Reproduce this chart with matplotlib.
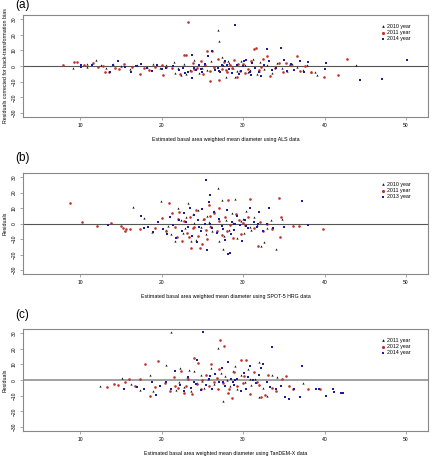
import matplotlib
matplotlib.use("Agg")
import matplotlib.pyplot as plt

plt.rcParams['font.family'] = ['Liberation Sans', 'DejaVu Sans']

# ---- data: (estimated diameter, residual) ----
a_2010 = [(9.1,-1.0),(10.9,1.3),(10.9,-0.4),(12.0,3.8),(12.6,0.5),(13.2,-1.5),(14.0,1.2),(15.0,0.3),(16.1,-2.0),(17.0,1.0),
          (18.2,-0.8),(19.0,1.6),(19.8,-1.0),(20.6,0.4),(21.5,2.8),(21.7,-4.5),(22.4,-6.0),(22.8,1.5),(23.5,-2.2),(24.0,4.0),
          (24.6,-4.3),(25.2,1.0),(25.6,-2.8),(26.1,3.5),(26.9,23.0),(27.0,16.0),(27.4,5.5),(27.9,-6.8),(28.3,2.0),(28.8,-1.5),
          (29.3,-3.0),(29.8,3.5),(30.3,1.0),(30.9,-2.3),(31.2,4.2),(31.7,-5.0),(32.1,2.5),(32.6,-1.8),(33.0,0.6),(33.5,-4.2),
          (34.2,2.0),(34.8,-1.0),(35.4,-3.3),(36.0,1.2),(36.6,-0.3),(37.3,-2.5),(37.8,0.8),(38.4,-4.0),(38.8,-3.5),(39.1,-5.6),
          (43.9,1.0),(23.0,-5.0),(25.0,-1.0),(27.6,0.5),(29.0,-7.0),(30.6,-3.8),(22.0,-1.5),(26.4,-0.6),(28.1,3.0),(31.9,-3.0)]
a_2011 = [(7.9,0.6),(9.3,2.5),(9.6,2.5),(10.5,0.5),(11.6,2.0),(12.2,-0.8),(12.8,0.3),(13.1,-3.8),(13.6,-4.0),(14.3,-1.2),
          (14.8,-2.0),(15.4,1.5),(16.4,-0.8),(17.3,-5.3),(17.8,-1.5),(18.5,-2.5),(19.2,-0.5),(20.0,0.8),(20.2,-6.0),(20.6,-0.7),
          (21.3,-1.0),(22.3,-5.0),(22.7,7.0),(23.0,7.0),(23.3,28.0),(23.6,-3.0),(23.9,2.2),(24.3,-1.5),(24.8,3.5),(25.1,-5.0),
          (25.6,9.6),(25.9,-9.4),(26.2,9.6),(26.5,-0.5),(26.9,4.5),(27.1,-9.0),(27.4,-2.0),(27.7,2.5),(28.0,-4.0),(28.4,0.8),
          (28.7,-1.5),(29.2,-7.0),(29.6,-3.0),(30.0,1.2),(30.6,-2.0),(31.0,3.5),(31.4,10.8),(31.6,11.3),(32.0,-2.5),(32.5,4.5),
          (32.9,6.2),(33.3,-6.5),(33.9,-1.5),(34.4,1.8),(34.9,-4.0),(35.3,2.0),(35.8,0.5),(36.6,6.4),(37.0,-3.0),(37.6,-0.2),
          (38.4,-3.5),(39.9,-7.0),(41.6,-5.7),(42.8,4.3),(24.0,-2.0),(26.0,-3.0),(27.9,-2.8),(29.4,1.5),(30.2,-4.5),(32.2,-0.5),
          (25.3,0.5),(28.9,4.0)]
a_2014 = [(10.1,0.4),(10.1,-0.4),(11.5,0.5),(13.7,-3.5),(14.1,0.5),(14.6,3.0),(15.5,-0.5),(16.3,-3.5),(16.9,0.2),(17.5,1.5),
          (18.2,-1.5),(18.8,-3.0),(19.5,0.5),(20.0,-2.0),(20.6,-1.5),(21.4,0.0),(22.1,-2.5),(22.6,-1.2),(22.9,-4.5),(23.3,-3.5),
          (23.8,-7.4),(23.7,7.0),(24.2,-2.5),(24.6,0.5),(24.9,-1.8),(25.3,1.5),(25.7,6.2),(26.2,9.6),(26.6,-2.5),(27.0,-3.0),
          (27.4,0.5),(27.8,3.0),(28.3,-2.0),(28.6,-4.5),(29.0,26.0),(29.3,0.5),(29.7,-3.0),(30.1,3.5),(30.4,4.0),(30.9,-4.0),
          (31.1,2.0),(31.5,-1.5),(31.9,-3.5),(32.2,-6.5),(32.6,1.0),(32.9,10.6),(33.2,3.5),(33.6,-2.5),(34.0,-1.0),(34.7,11.3),
          (35.0,4.0),(35.4,-3.0),(35.9,1.5),(36.3,-2.2),(37.0,3.0),(37.5,-4.0),(38.0,2.5),(40.0,-2.0),(40.2,2.1),(44.3,-9.0),
          (47.1,-8.3),(50.1,3.8),(25.0,-4.0),(26.9,-1.5),(28.0,1.0),(29.5,-5.0),(31.0,-5.5),(24.0,-1.0),(27.2,-3.8),(30.0,0.0)]

b_2010 = [(16.5,11.0),(17.9,3.5),(18.8,-5.5),(19.9,14.3),(20.5,-4.0),(21.2,-6.5),(21.7,-11.0),(22.0,10.0),(22.4,2.0),(22.9,-3.0),
          (23.3,13.5),(23.6,-11.5),(23.9,6.0),(24.2,-10.5),(24.5,9.0),(24.8,-2.5),(25.1,3.0),(25.4,-7.0),(25.8,1.0),(26.2,-5.0),
          (26.5,8.0),(26.9,23.2),(27.1,-11.0),(27.4,15.0),(27.5,-16.2),(27.9,2.0),(28.3,-4.0),(28.6,6.5),(29.0,15.7),(29.3,-9.0),
          (29.7,1.5),(30.1,-6.0),(30.4,8.0),(30.8,-2.0),(31.3,4.0),(31.7,-1.0),(32.2,-14.7),(32.6,-12.0),(33.0,-3.0),(33.4,2.5),
          (34.1,-16.2),(34.8,3.0),(20.8,-1.5),(22.6,-6.0),(24.0,0.5),(25.6,5.0),(26.0,-1.5),(27.7,-8.0),(28.8,0.5),(30.0,3.0),
          (31.0,-4.0),(23.0,4.5)]
b_2011 = [(8.8,13.0),(10.3,0.9),(12.1,-1.3),(13.8,0.4),(15.0,-1.5),(15.3,-3.0),(15.5,-4.5),(15.7,-3.5),(16.1,-3.2),(17.3,-3.8),
          (19.2,-3.0),(20.0,3.5),(20.5,-5.0),(20.9,13.0),(21.3,7.0),(21.6,-2.0),(21.9,-8.5),(22.2,7.5),(22.5,-11.0),(22.8,1.5),
          (23.1,-6.0),(23.5,4.0),(23.6,-15.5),(23.9,-3.0),(24.2,9.0),(24.5,-8.0),(24.7,-15.5),(25.0,-13.0),(25.2,3.0),(25.5,-4.0),
          (25.8,12.0),(26.1,-2.0),(26.4,7.0),(26.8,-5.0),(27.1,10.0),(27.4,-7.5),(27.8,4.0),(28.2,15.0),(28.4,-1.0),(28.8,-9.0),
          (29.1,6.0),(29.5,2.0),(29.8,-6.5),(30.2,-1.0),(30.6,4.5),(30.9,15.7),(31.3,-3.0),(31.8,-14.7),(32.1,1.0),(32.5,-5.0),
          (33.0,-0.5),(33.6,-3.5),(34.4,16.8),(34.5,-8.7),(34.7,4.5),(36.1,-1.3),(36.9,-1.3),(39.8,-3.6),(22.0,3.0),(24.0,-2.0),
          (26.0,5.0),(28.0,-4.5),(30.0,0.5),(27.0,1.5),(23.4,-8.5),(25.6,-10.0)]
b_2013 = [(13.4,-0.6),(17.5,5.0),(17.8,-3.0),(18.3,-2.5),(19.0,-5.5),(19.6,1.3),(20.2,-3.5),(20.7,-6.5),(21.0,4.5),(21.4,-1.0),
          (21.8,-9.0),(22.1,2.0),(22.5,-4.5),(22.8,6.5),(23.2,-2.0),(23.5,10.0),(23.8,-8.0),(24.0,5.5),(24.3,-12.0),(24.5,2.5),
          (24.8,-5.0),(25.0,9.5),(25.3,0.0),(25.5,28.3),(25.6,-17.2),(25.9,18.3),(26.2,-3.0),(26.5,7.5),(26.8,-6.0),(27.1,3.0),
          (27.4,-1.5),(27.8,-10.5),(28.0,8.5),(28.2,-19.4),(28.4,-19.0),(28.6,1.0),(28.9,-4.0),(29.2,5.0),(29.6,-1.0),(29.9,-11.0),
          (30.2,2.0),(30.6,-3.0),(30.9,10.0),(31.3,1.0),(31.7,-2.5),(32.0,7.5),(32.4,-4.5),(32.9,0.0),(33.2,10.0),(33.7,-3.0),
          (35.0,-2.0),(37.2,14.5),(38.0,-1.0),(24.6,-2.0),(26.0,-0.5),(27.6,-3.5),(29.0,-0.5),(30.4,-1.5),(31.8,-0.5),(23.0,1.0),
          (25.8,14.0),(28.5,-7.0)]

c_2011 = [(12.4,-3.6),(15.2,1.3),(16.2,-2.5),(17.3,-6.5),(18.6,3.0),(19.0,-7.0),(20.5,9.5),(21.2,30.4),(21.8,-6.5),(22.3,8.0),
          (22.7,-4.5),(23.1,2.0),(23.6,-7.0),(24.0,5.5),(24.4,-2.0),(24.8,3.5),(25.2,-5.0),(25.7,0.5),(26.1,8.0),(26.5,-2.5),
          (26.9,20.4),(27.3,4.5),(27.6,-13.2),(28.0,0.0),(28.4,-3.5),(28.8,6.0),(29.3,-6.0),(29.7,3.5),(30.2,-1.5),(30.6,7.0),
          (31.0,-3.0),(31.5,1.0),(31.9,11.5),(32.0,-10.5),(32.5,-5.0),(33.0,-10.0),(33.5,3.0),(34.2,2.0),(37.3,-1.9),(23.4,6.5),
          (25.0,-0.5),(27.8,2.5),(29.0,9.0),(30.9,0.5),(22.2,-1.0)]
c_2012 = [(13.3,-4.5),(14.2,-2.5),(14.7,-3.0),(15.5,-1.5),(16.0,0.5),(16.8,-4.0),(17.3,0.5),(18.0,10.0),(18.6,-10.0),(19.2,-4.5),
          (19.6,12.3),(20.4,-2.0),(21.0,-7.0),(21.5,2.0),(22.0,-5.0),(22.4,5.5),(22.7,-8.0),(23.2,0.5),(23.7,-9.0),(24.0,14.0),
          (24.3,-2.5),(24.5,11.0),(24.9,-6.0),(25.4,3.0),(25.8,-4.0),(26.1,10.0),(26.5,-1.5),(26.9,-5.5),(27.2,25.7),(27.5,-2.0),
          (27.7,22.0),(28.1,-8.0),(28.6,-11.5),(28.9,5.0),(29.3,-4.0),(29.7,13.0),(30.1,2.5),(30.4,13.0),(30.8,-9.0),(31.3,5.0),
          (31.7,-1.0),(32.2,-10.5),(32.7,-9.4),(33.1,3.0),(33.6,-5.0),(34.0,-7.0),(34.8,1.0),(35.3,2.5),(35.7,-4.0),(36.1,-6.0),
          (38.0,-6.0),(39.5,-6.0),(23.0,-4.0),(25.0,0.0),(26.8,1.5),(28.3,-6.0),(30.0,-2.0),(31.9,-3.0),(21.7,-3.5),(27.0,7.0)]
c_2014 = [(15.4,-5.5),(17.0,-4.5),(17.8,-6.0),(18.8,-1.5),(19.3,-9.5),(19.8,-4.0),(20.5,-1.5),(21.2,-6.0),(21.6,5.5),(22.3,-3.0),
          (22.8,-7.0),(23.2,2.0),(23.6,-5.0),(24.0,-1.0),(24.4,13.0),(24.8,-6.5),(25.1,30.6),(25.4,-3.0),(25.8,1.0),(26.2,-5.5),
          (26.6,4.0),(27.0,-1.0),(27.4,8.0),(27.8,-4.0),(28.2,11.5),(28.5,0.5),(28.9,-3.0),(29.3,1.0),(29.7,-7.0),(30.1,4.5),
          (30.4,-5.7),(30.8,9.0),(31.2,0.0),(31.6,-2.0),(32.0,3.0),(32.4,10.0),(32.9,-1.5),(33.3,-4.5),(33.6,20.8),(34.1,-6.0),
          (34.6,-4.0),(35.2,-11.0),(35.7,-12.0),(36.3,-6.0),(37.2,8.7),(37.0,-11.0),(38.9,-6.0),(39.3,-6.0),(40.2,-10.0),(41.0,-5.5),
          (41.2,-7.5),(42.0,-8.5),(42.3,-8.5),(26.0,2.5),(27.6,-1.5),(29.0,0.0),(30.6,2.0),(32.2,7.5),(24.2,-2.5),(28.8,-1.0)]

panels = [
    ('(a)', [a_2010, a_2011, a_2014], ['2010 year', '2011 year', '2014 year'],
     'Estimated basal area weighted mean diameter using ALS data',
     'Residuals corrected for back-transformation bias', '#555555', 0.8),
    ('(b)', [b_2010, b_2011, b_2013], ['2010 year', '2011 year', '2013 year'],
     'Estimated basal area weighted mean diameter using SPOT-5 HRG data',
     'Residuals', '#555555', 0.8),
    ('(c)', [c_2011, c_2012, c_2014], ['2011 year', '2012 year', '2014 year'],
     'Estimated basal area weighted mean diameter using TanDEM-X data',
     'Residuals', '#999999', 1.3),
]
colors = ['#151515', '#c0302c', '#1c1c9c']
markers = ['^', 'o', 's']
sizes = [2.5, 3.5, 3.2]

W, H = 433, 463
fig = plt.figure(figsize=(W / 100, H / 100), dpi=100)
# axes boxes in pixels: (top, bottom)
boxes = [(15, 117), (173, 274), (329, 431)]
label_y = [5, 158, 315]

for (lab, series, names, xlab, ylab, lc, lw), (top, bot), ly in zip(panels, boxes, label_y):
    ax = fig.add_axes([23 / W, 1 - bot / H, 405 / W, (bot - top) / H])
    for s, name, c, m, sz in zip(series, names, colors, markers, sizes):
        xs, ys = zip(*s)
        ax.scatter(xs, ys, s=sz, c=c, marker=m, linewidths=0, label=name)
    ax.axhline(0, color=lc, lw=lw, zorder=0)
    ax.set_xlim(3, 52.7)
    ax.set_ylim(-32.5, 32.6)
    ax.set_xticks([10, 20, 30, 40, 50])
    ax.set_yticks([-30, -20, -10, 0, 10, 20, 30])
    ax.tick_params(labelsize=3.6, length=2.5, width=0.4, color='#666666', pad=2)
    for t in ax.get_yticklabels():
        t.set_rotation(90)
        t.set_va('center')
    for sp in ax.spines.values():
        sp.set_color('#888888')
        sp.set_linewidth(0.8)
    ax.set_xlabel(xlab, fontsize=3.8, labelpad=6)
    ax.set_ylabel(ylab, fontsize=3.8, labelpad=3)
    ax.legend(loc='upper right', bbox_to_anchor=(0.965, 0.95), frameon=False,
              fontsize=3.8, handletextpad=0.2, labelspacing=0.25,
              markerscale=1.2, borderpad=0.2, handlelength=1.0)
    fig.text(15 / W, 1 - ly / H, lab, fontsize=8.5, va='center', ha='left')

fig.savefig('out.png', dpi=100)
